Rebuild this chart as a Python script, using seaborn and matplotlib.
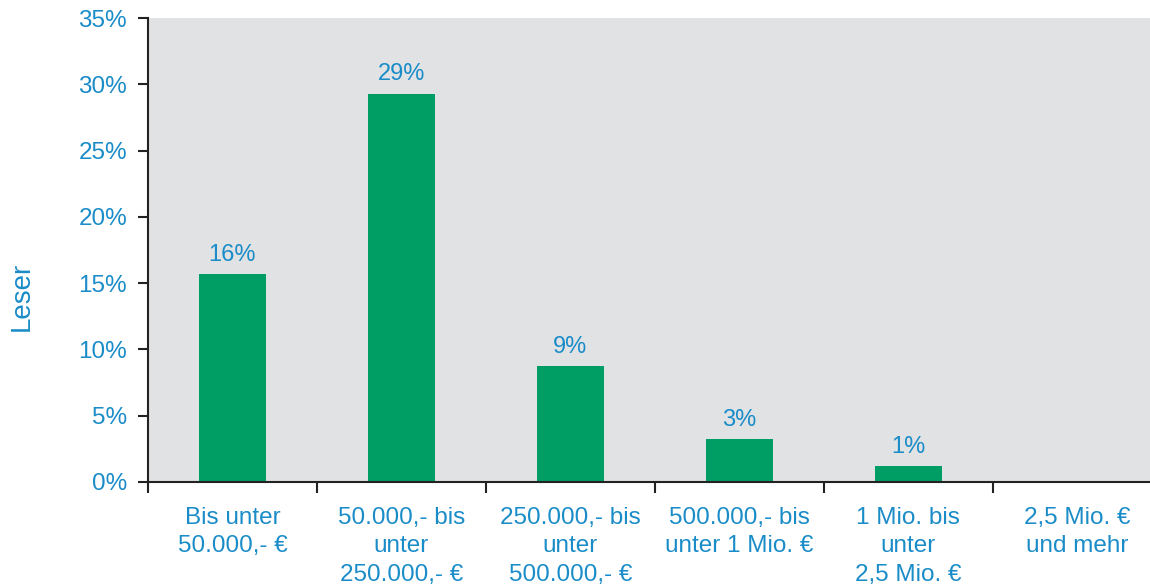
import matplotlib
matplotlib.use("Agg")
import matplotlib.pyplot as plt
import seaborn as sns
import numpy as np
from matplotlib.ticker import FuncFormatter, FixedLocator

categories = ["Bis unter\n50.000,- €", "50.000,- bis\nunter\n250.000,- €",
              "250.000,- bis\nunter\n500.000,- €", "500.000,- bis\nunter 1 Mio. €",
              "1 Mio. bis\nunter\n2,5 Mio. €", "2,5 Mio. €\nund mehr"]
values = [15.7, 29.3, 8.75, 3.25, 1.2, 0.0]
labels = ["16%", "29%", "9%", "3%", "1%", ""]
yticks = [0, 5, 10, 15, 20, 25, 30, 35]

sns.set_style("white")
plt.rcParams['font.family'] = ['Liberation Sans', 'DejaVu Sans']

BLUE = "#1a8cc8"
GREEN = "#009d64"
GRAY = "#e1e2e4"

fig = plt.figure(figsize=(11.5, 5.86), dpi=100)
ax = fig.add_axes([0.1287, 0.1775, 0.8713, 0.7915])
ax.set_facecolor(GRAY)

sns.barplot(x=list(range(len(categories))), y=values, color=GREEN, width=0.4,
            saturation=1, ax=ax, native_scale=True, linewidth=0, edgecolor=GREEN)

for i, (v, lab) in enumerate(zip(values, labels)):
    if lab:
        ax.annotate(lab, (i, v), xytext=(0, 6), textcoords="offset points",
                    ha="center", va="bottom", color=BLUE, fontsize=17)

ax.set_xlim(-0.5, 5.43)
ax.set_ylim(0, 35)
ax.set_yticks(yticks)
ax.yaxis.set_major_formatter(FuncFormatter(lambda v, p: f"{int(v)}%"))
ax.tick_params(axis="y", colors="#222222", labelcolor=BLUE, labelsize=17.5,
               length=7, width=1.5, direction="out", left=True, pad=8)

ax.xaxis.set_major_locator(FixedLocator([i - 0.5 for i in range(len(categories) + 1)]))
ax.xaxis.set_major_formatter(FuncFormatter(lambda v, p: ""))
ax.xaxis.set_minor_locator(FixedLocator(list(range(len(categories)))))
ax.set_xticklabels(categories, minor=True, color=BLUE, fontsize=17.5, linespacing=1.38)
ax.tick_params(axis="x", which="major", colors="#222222", length=8, width=1.5,
               direction="out", bottom=True)
ax.tick_params(axis="x", which="minor", length=0, pad=18)
for t in ax.get_xticklabels(minor=True):
    t.set_verticalalignment("top")

ax.set_ylabel("")
ax.set_xlabel("")
fig.text(22 / 1150, 1 - 296 / 586, "Leser", rotation=90, color=BLUE, fontsize=20,
         ha="center", va="center")

for s in ["top", "right"]:
    ax.spines[s].set_visible(False)
for s in ["left", "bottom"]:
    ax.spines[s].set_color("#222222")
    ax.spines[s].set_linewidth(1.5)

fig.savefig("out.png", dpi=100)
